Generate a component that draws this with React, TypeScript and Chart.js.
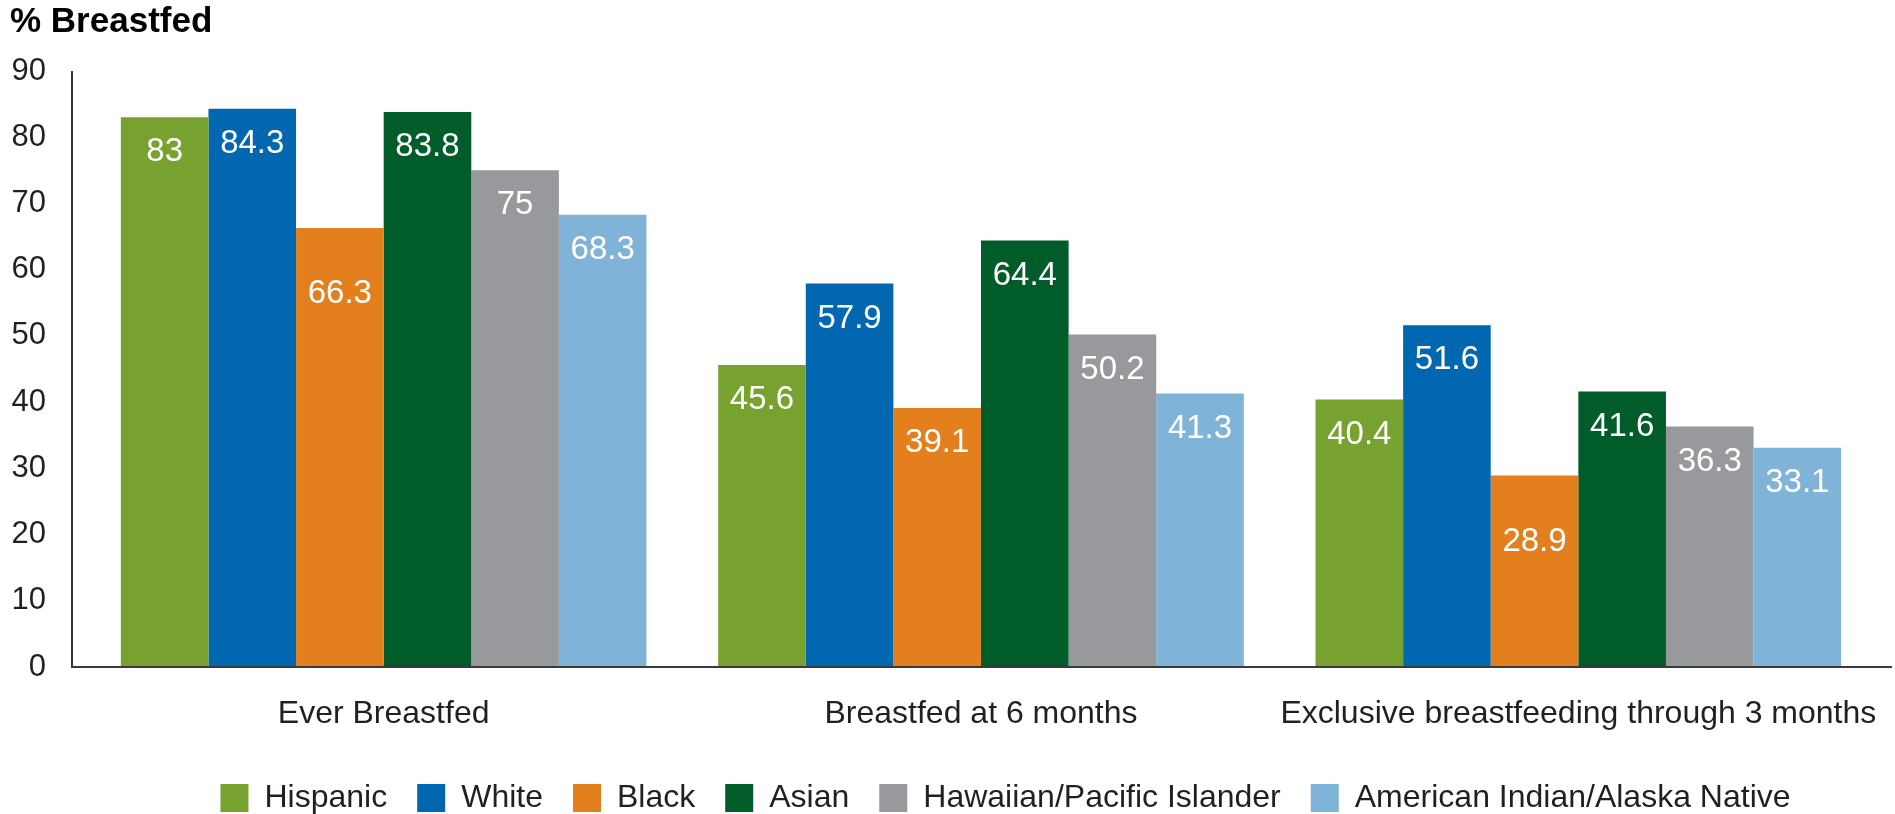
import React, { useEffect, useRef } from 'react';
import { Chart, registerables } from 'chart.js';

Chart.register(...registerables);

// Breastfeeding rates (%) by race/ethnicity
const categories = ['Ever Breastfed', 'Breastfed at 6 months', 'Exclusive breastfeeding through 3 months'];
const hispanic = [83, 45.6, 40.4];
const white = [84.3, 57.9, 51.6];
const black = [66.3, 39.1, 28.9];
const asian = [83.8, 64.4, 41.6];
const hawaiianPacific = [75, 50.2, 36.3];
const amIndianAlaska = [68.3, 41.3, 33.1];

const seriesNames = ['Hispanic', 'White', 'Black', 'Asian', 'Hawaiian/Pacific Islander', 'American Indian/Alaska Native'];
const seriesColors = ['#78a22f', '#0067b0', '#e47f1e', '#005c29', '#98999c', '#80b3d8'];

const yMin = 0;
const yMax = 90;
const yStep = 10;

const FONT = "'Liberation Sans', Arial, Helvetica, sans-serif";
const TEXT = '#231f20';

// L-shaped axis frame that reaches a little past the category band on both ends
const axisFrame = {
  id: 'axisFrame',
  afterDatasetsDraw(chart: any, _args: any, opts: any) {
    const { ctx, chartArea } = chart;
    const { left, right, top, bottom } = chartArea;
    ctx.save();
    ctx.strokeStyle = opts.color;
    ctx.lineWidth = opts.width;
    ctx.beginPath();
    ctx.moveTo(left - opts.leftReach, top);
    ctx.lineTo(left - opts.leftReach, bottom);
    ctx.lineTo(right + opts.rightReach, bottom);
    ctx.stroke();
    ctx.restore();
  },
};

// White value labels inside the top of each bar
const barValues = {
  id: 'barValues',
  afterDatasetsDraw(chart: any, _args: any, opts: any) {
    const { ctx } = chart;
    ctx.save();
    ctx.fillStyle = opts.color;
    ctx.font = `${opts.size}px ${FONT}`;
    ctx.textAlign = 'center';
    ctx.textBaseline = 'middle';
    chart.data.datasets.forEach((ds: any, di: number) => {
      const meta = chart.getDatasetMeta(di);
      meta.data.forEach((bar: any, i: number) => {
        const lowered = (opts.lowered || []).some((p: number[]) => p[0] === di && p[1] === i);
        const dy = lowered ? opts.lowOffset : opts.offset;
        ctx.fillText(String(ds.data[i]), bar.x, bar.y + dy);
      });
    });
    ctx.restore();
  },
};

// Nudges the legend block after layout
const legendNudge = {
  id: 'legendNudge',
  afterLayout(chart: any, _args: any, opts: any) {
    const lg = chart.legend;
    if (!lg) return;
    lg.left += opts.dx;
    lg.right += opts.dx;
    lg.top += opts.dy;
    lg.bottom += opts.dy;
  },
};

export default function App() {
  const canvasRef = useRef<HTMLCanvasElement | null>(null);

  useEffect(() => {
    const canvas = canvasRef.current;
    if (!canvas) return;
    const series = [hispanic, white, black, asian, hawaiianPacific, amIndianAlaska];
    const chart = new Chart(canvas, {
      type: 'bar',
      data: {
        labels: categories,
        datasets: series.map((values, k) => ({
          label: seriesNames[k],
          data: values,
          backgroundColor: seriesColors[k],
          borderWidth: 0,
          categoryPercentage: 0.88,
          barPercentage: 1,
        })),
      },
      plugins: [axisFrame, barValues, legendNudge],
      options: {
        animation: false,
        responsive: true,
        maintainAspectRatio: false,
        layout: { padding: { left: 10, right: 18, top: 0, bottom: 0 } },
        scales: {
          x: {
            grid: { display: false, drawTicks: false },
            border: { display: false },
            ticks: {
              color: TEXT,
              font: { family: FONT, size: 32 },
              padding: 28,
              maxRotation: 0,
              autoSkip: false,
            },
            afterFit: (scale: any) => {
              // long end labels may run into the side margins
              scale.paddingLeft = 0;
              scale.paddingRight = 0;
              scale.height = 75;
            },
          },
          y: {
            min: yMin,
            max: yMax,
            grid: { display: false, drawTicks: false },
            border: { display: false },
            ticks: {
              stepSize: yStep,
              color: TEXT,
              font: { family: FONT, size: 31 },
              padding: 39,
            },
            afterFit: (scale: any) => {
              scale.width = 75;
            },
          },
        },
        plugins: {
          title: {
            display: true,
            text: '% Breastfed',
            align: 'start',
            color: '#000',
            font: { family: FONT, size: 35, weight: 'bold' },
            padding: { top: 1, bottom: 28 },
          },
          legend: {
            position: 'bottom',
            labels: {
              color: TEXT,
              font: { family: FONT, size: 32 },
              boxWidth: 28,
              boxHeight: 28,
              padding: 30,
            },
          },
          tooltip: { enabled: false },
          axisFrame: { color: '#3a3a3a', width: 2, leftReach: 13, rightReach: 15 },
          barValues: { color: '#ffffff', size: 33, offset: 35, lowOffset: 66, lowered: [[2, 0], [2, 2]] },
          legendNudge: { dx: 62, dy: 10 },
        } as any,
      },
    });
    return () => chart.destroy();
  }, []);

  return (
    <div style={{ position: 'fixed', left: 0, top: 0, width: 1895, height: 814, background: '#fff' }}>
      <canvas ref={canvasRef} />
    </div>
  );
}
